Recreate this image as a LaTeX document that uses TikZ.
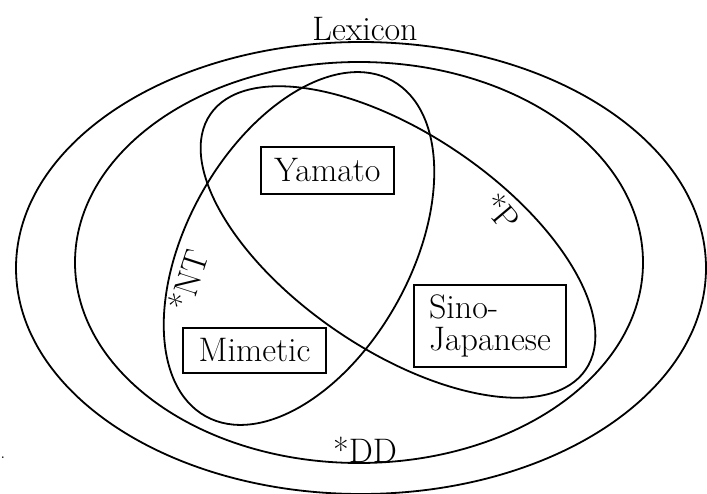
\documentclass[tikz,border=0pt]{standalone}
\usetikzlibrary{positioning}
\begin{document}
\begin{tikzpicture}[x=1pt,y=1pt,
  line/.style={line width=1.8pt, black},
  lbl/.style={font=\fontsize{34}{32}\selectfont, inner sep=0pt},
  catbox/.style={draw, line width=1.8pt, font=\fontsize{34}{32}\selectfont, inner sep=0pt, align=center},
]
\useasboundingbox (0,0) rectangle (707,493);
% ellipses
\draw[line] (361,225) ellipse [x radius=345, y radius=226];
\draw[line] (359,230.5) ellipse [x radius=284, y radius=200.5];
\draw[line] (299,244.5) ellipse [x radius=192, y radius=112, rotate=60.9];
\draw[line] (398,251) ellipse [x radius=227, y radius=108, rotate=-34.2];
% boxes
\node[catbox, minimum width=133pt, minimum height=47pt] (yamato) at (327.5,322.5) {Yamato};
\node[catbox, minimum width=143pt, minimum height=45pt] (mimetic) at (254.5,142.5) {Mimetic};
\node[catbox, minimum width=152pt, minimum height=82pt, align=left, inner xsep=10pt] (sino) at (490,167) {Sino-\\Japanese};
% labels
\node[lbl, anchor=base] (lexicon) at (365,452) {Lexicon};
\node[lbl, anchor=base] (dd) at (365,31) {*DD};
\node[lbl, rotate=72] (nt) at (188,213) {*NT};
\node[lbl, rotate=-50] (p) at (502,281) {*P};
\node[lbl, font=\fontsize{20}{20}\selectfont] (dot) at (3,35) {.};
\end{tikzpicture}
\end{document}
